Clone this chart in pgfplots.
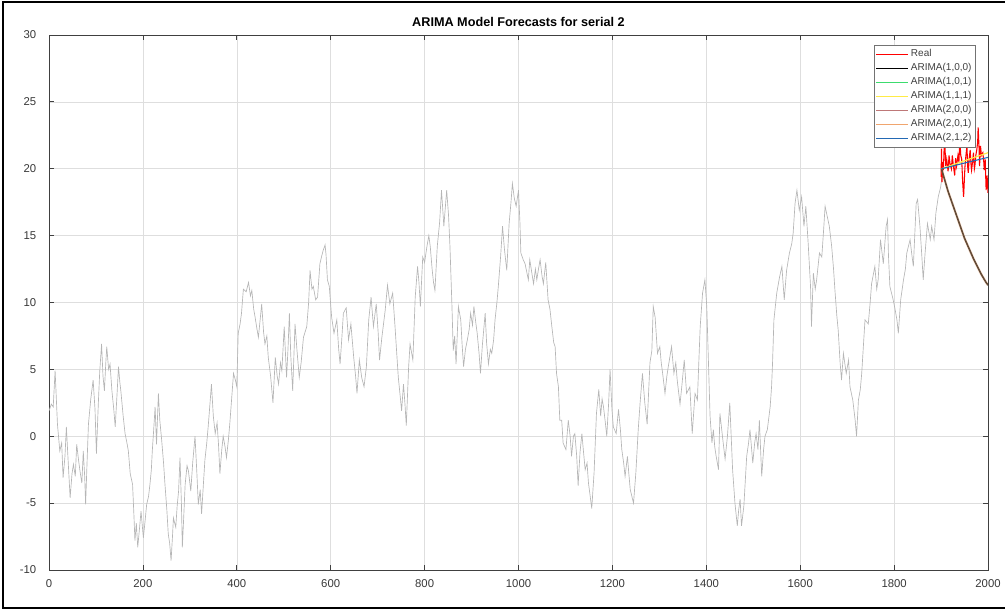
\documentclass[border=0pt]{standalone}
\usepackage{pgfplots}
\pgfplotsset{compat=1.18}
\usepackage{fontspec}
\setmainfont{Liberation Sans}

\definecolor{realred}{rgb}{1,0,0}
\definecolor{arGreen}{RGB}{60,220,110}
\definecolor{arYellow}{RGB}{255,235,70}
\definecolor{arRose}{RGB}{190,120,120}
\definecolor{arPeach}{RGB}{240,165,110}
\definecolor{arBlue}{RGB}{35,105,180}
\definecolor{seriesgray}{RGB}{182,182,182}

% observed series (index, value)
\pgfplotstableread{
x y
0 1.9
5 2.4
9 2.2
13 4.9
18 0.9
23 -1.1
27 -0.5
30 -3.1
34 -1.5
37 0.7
41 -2.0
45 -4.6
49 -2.8
52 -2.1
56 -3.0
59 -0.6
63 -1.8
66 -2.6
70 -3.5
73 -1.1
76 -3.0
78 -5.1
81 -2.0
84 0.9
89 2.8
94 4.2
98 2.0
101 -1.3
105 2.4
108 4.8
112 6.9
115 4.5
118 3.4
121 5.5
123 6.7
127 5.0
130 5.4
134 3.4
138 2.0
141 0.7
145 3.2
148 5.2
151 4.0
153 3.4
158 1.5
162 0.2
166 -0.5
169 -1.1
173 -2.8
178 -3.6
181 -6.0
183 -7.8
186 -6.5
189 -8.3
193 -6.8
196 -5.6
201 -7.6
205 -6.2
208 -5.1
212 -4.5
215 -3.6
218 -2.5
220 -1.1
223 0.5
226 2.2
229 -0.6
233 3.2
236 1.2
240 -0.3
244 -2.0
247 -3.6
251 -5.5
254 -7.3
257 -8.0
260 -9.3
263 -7.5
265 -6.1
270 -6.8
273 -5.2
276 -4.1
279 -1.6
282 -5.0
284 -8.3
287 -6.0
290 -3.6
294 -2.2
297 -2.6
302 -4.1
306 -2.0
311 0.0
315 -2.8
318 -5.1
322 -4.0
325 -5.8
329 -3.5
332 -1.8
336 -0.5
339 0.7
343 2.5
346 3.9
350 1.5
354 0.2
358 1.0
361 -0.6
364 -2.8
368 -1.0
371 0.0
375 -0.8
378 -1.6
382 -0.3
385 0.9
389 2.8
393 4.7
397 4.2
400 3.7
403 7.7
407 8.4
410 9.2
414 11.0
420 10.8
425 11.5
429 10.5
432 10.9
436 9.5
439 8.9
443 8.0
446 7.4
450 8.8
453 9.9
457 7.8
460 6.9
464 7.5
467 5.9
472 4.5
477 2.5
482 5.9
486 4.5
489 3.9
493 5.5
496 4.9
501 8.2
506 4.4
509 6.5
512 9.2
515 6.0
519 3.4
524 8.4
528 6.5
533 4.4
537 5.5
542 7.4
549 8.2
553 10.0
556 12.4
560 11.0
563 11.2
568 10.2
572 10.4
577 12.9
581 13.5
584 13.9
588 14.3
590 13.6
593 11.7
597 11.2
602 8.9
607 7.7
613 8.7
617 6.5
620 5.4
624 7.5
627 9.2
633 9.6
638 7.2
643 8.4
649 5.9
653 4.5
656 3.2
661 5.7
666 4.4
671 3.7
676 5.2
681 8.7
686 10.4
691 8.2
697 9.9
701 7.8
704 5.7
709 7.4
716 9.4
721 11.3
726 9.9
732 10.7
737 8.2
741 6.0
744 4.4
748 3.0
751 1.9
755 3.9
758 2.5
761 0.8
766 5.2
769 6.9
775 5.7
780 10.4
785 12.7
788 11.5
791 9.7
796 13.4
800 13.0
805 14.2
809 15.0
812 14.2
816 12.5
819 11.5
822 10.9
827 14.2
832 16.0
836 18.4
841 15.7
847 18.4
851 16.5
854 14.2
858 10.0
861 6.4
864 7.5
867 5.4
872 9.7
877 8.7
880 6.8
883 5.2
887 6.5
891 7.2
895 8.0
898 9.2
902 8.3
905 9.7
909 8.5
912 7.7
916 6.2
919 4.7
923 6.8
926 8.0
929 9.2
932 7.0
936 5.4
940 6.5
943 6.2
947 7.2
950 8.7
954 10.0
957 11.2
962 13.5
966 15.7
970 14.0
975 12.4
980 15.9
984 17.5
987 18.9
991 17.8
995 17.2
1000 18.4
1003 16.0
1005 13.7
1010 13.2
1014 12.9
1018 12.2
1021 11.7
1024 13.2
1028 12.3
1032 11.4
1036 12.5
1039 11.7
1043 12.6
1046 13.2
1050 12.0
1053 11.4
1058 13.0
1063 10.2
1067 9.5
1071 8.2
1075 7.0
1078 6.7
1081 4.7
1085 3.7
1088 1.2
1092 1.2
1095 -0.5
1101 -1.0
1106 1.2
1110 0.0
1113 -1.5
1117 0.0
1120 0.2
1124 -1.5
1127 -3.7
1131 -1.2
1135 0.2
1138 -1.0
1142 -2.5
1146 -2.0
1149 -3.5
1152 -4.3
1156 -5.4
1161 -2.7
1166 1.7
1171 3.5
1175 1.5
1178 2.8
1181 2.2
1185 1.0
1188 0.0
1192 2.5
1195 5.0
1199 2.0
1202 0.7
1208 0.2
1213 2.0
1217 0.5
1220 -1.0
1224 -2.0
1227 -3.0
1232 -1.5
1235 -2.8
1238 -4.0
1245 -5.0
1250 -2.7
1255 0.5
1259 2.5
1264 4.7
1269 2.5
1274 0.9
1280 5.5
1284 6.4
1287 9.7
1291 8.9
1296 6.2
1301 6.7
1304 5.5
1307 4.7
1312 3.2
1316 4.5
1319 5.2
1326 6.7
1331 4.7
1335 5.5
1338 4.2
1344 2.4
1348 3.8
1353 5.7
1358 3.2
1365 3.7
1370 0.2
1376 3.2
1381 2.7
1384 5.5
1387 8.2
1392 10.7
1397 11.7
1401 9.7
1404 6.2
1408 1.5
1412 -0.5
1415 0.5
1418 -0.8
1421 -1.5
1426 -2.5
1429 1.7
1435 -0.2
1440 -1.7
1445 0.0
1450 2.5
1453 0.0
1456 -2.5
1461 -5.0
1466 -6.7
1469 -5.5
1472 -4.7
1475 -6.7
1480 -5.2
1486 -1.5
1490 -0.5
1493 0.5
1499 -2.0
1503 -0.5
1506 0.2
1510 -1.0
1513 1.2
1518 -3.0
1522 -1.0
1525 0.0
1530 0.5
1536 2.2
1539 3.7
1541 5.4
1544 8.7
1550 10.7
1556 11.9
1561 12.7
1566 10.2
1571 12.4
1577 13.7
1582 14.4
1585 15.2
1589 17.4
1593 18.4
1598 16.9
1603 17.9
1608 15.7
1612 17.2
1617 14.4
1622 11.2
1624 8.2
1628 12.2
1632 11.0
1635 11.7
1641 13.7
1646 13.4
1650 15.5
1653 17.2
1656 16.7
1662 15.7
1667 14.2
1671 12.5
1674 10.9
1678 9.0
1681 7.9
1685 5.5
1688 4.2
1692 6.2
1698 4.7
1703 5.7
1706 3.7
1712 2.7
1717 1.2
1720 0.0
1724 2.7
1728 3.5
1731 4.7
1735 7.0
1738 8.7
1745 8.4
1749 10.0
1752 11.4
1759 12.7
1763 11.0
1766 11.7
1771 14.7
1777 12.9
1783 15.7
1786 16.2
1788 13.5
1791 11.2
1798 10.2
1802 9.5
1806 8.7
1809 7.7
1814 10.2
1820 11.7
1824 12.5
1827 13.7
1834 14.7
1838 13.5
1841 12.7
1847 17.4
1850 17.7
1855 15.7
1859 13.5
1862 11.7
1866 13.7
1871 15.9
1877 14.7
1880 15.7
1885 14.7
1889 16.7
1894 17.9
1899 18.6
1902 19.4
}\observed

% held-out real values
\pgfplotstableread{
x y
1900 19.4
1901 21.5
1902 19.0
1904 20.5
1905 19.9
1907 22.0
1908 21.9
1910 20.2
1912 20.7
1915 19.8
1917 21.0
1919 20.4
1922 20.0
1924 21.0
1926 20.3
1929 19.5
1931 20.8
1933 20.2
1936 21.0
1938 20.5
1940 22.1
1942 21.0
1944 20.7
1946 19.0
1948 17.9
1950 19.5
1951 20.2
1953 21.0
1955 21.7
1957 20.0
1958 19.7
1960 20.8
1962 21.4
1964 20.2
1965 19.9
1967 20.5
1969 21.2
1971 20.0
1972 20.2
1974 21.0
1976 21.4
1978 22.0
1979 23.1
1981 21.5
1982 20.2
1984 21.7
1986 21.0
1989 21.2
1991 20.5
1992 19.9
1994 20.7
1996 18.4
1998 19.5
2000 18.2
}\realdata

% stationary-model forecasts (mean reverting)
\pgfplotstableread{
x y
1901 20.0
1905 19.5
1910 18.9
1915 18.3
1920 17.8
1925 17.3
1930 16.8
1935 16.3
1940 15.8
1945 15.3
1950 14.8
1955 14.4
1960 14.0
1965 13.6
1970 13.2
1975 12.85
1980 12.5
1985 12.15
1990 11.85
1995 11.55
2000 11.3
}\fcstat

% integrated-model forecasts (drift)
\pgfplotstableread{
x y
1901 20.0
1950 20.6
2000 21.2
}\fcarimaA

\pgfplotstableread{
x y
1901 20.0
1950 20.43
2000 20.85
}\fcarimaB

\begin{document}
\begin{tikzpicture}
\useasboundingbox (-36.75pt,-31.5pt) rectangle (717pt,427.5pt);
\begin{axis}[
  scale only axis,
  width=704.25pt, height=401.25pt,
  xmin=0, xmax=2000, ymin=-10, ymax=30,
  xtick={0,200,...,2000},
  ytick={-10,-5,...,30},
  grid=major,
  major grid style={draw=black!13, line width=0.45pt},
  tick align=inside,
  major tick length=4pt,
  axis line style={draw=black!75, line width=0.6pt},
  tick style={draw=black!75, line width=0.6pt},
  ticklabel style={font=\fontsize{8.5}{10}\selectfont, text=black!78},
  xticklabel style={yshift=-3.5pt},
  yticklabel style={xshift=-6pt},
  /pgf/number format/assume math mode=true,
  /pgf/number format/1000 sep={},
  title={\textbf{ARIMA Model Forecasts for serial 2}},
  title style={font=\fontsize{9.5}{11}\selectfont, at={(0.5,1)}, anchor=south, yshift=-3pt},
  legend style={at={(1,1)}, anchor=north east, xshift=-9pt, yshift=-7.5pt,
    font=\fontsize{7.5}{8.5}\selectfont, text=black!75,
    draw=black!55, line width=0.5pt, fill=white,
    inner sep=1.5pt, row sep=0.4pt,
    nodes={inner sep=1.6pt},
    cells={anchor=west}},
  legend image code/.code={\draw[#1] (0pt,0pt) -- (24pt,0pt);},
  legend cell align=left,
]
% legend samples
\addlegendimage{realred, line width=0.6pt}
\addlegendentry{Real}
\addlegendimage{black, line width=0.7pt}
\addlegendentry{ARIMA(1,0,0)}
\addlegendimage{arGreen, line width=0.7pt}
\addlegendentry{ARIMA(1,0,1)}
\addlegendimage{arYellow, line width=0.7pt}
\addlegendentry{ARIMA(1,1,1)}
\addlegendimage{arRose, line width=0.7pt}
\addlegendentry{ARIMA(2,0,0)}
\addlegendimage{arPeach, line width=0.7pt}
\addlegendentry{ARIMA(2,0,1)}
\addlegendimage{arBlue, line width=0.7pt}
\addlegendentry{ARIMA(2,1,2)}

% observed history
\addplot[seriesgray, line width=0.5pt, forget plot] table[x=x,y=y] {\observed};
% real values over the forecast horizon
\addplot[realred, line width=0.8pt, forget plot] table[x=x,y=y] {\realdata};
% model forecasts
\addplot[black, line width=1.1pt, forget plot] table[x=x,y=y] {\fcstat};
\addplot[arGreen, line width=0.6pt, opacity=0.1, forget plot] table[x=x,y=y] {\fcstat};
\addplot[arYellow, line width=0.9pt, forget plot] table[x=x,y=y] {\fcarimaA};
\addplot[arRose, line width=0.9pt, opacity=0.2, forget plot] table[x=x,y=y] {\fcstat};
\addplot[arPeach, line width=2pt, opacity=0.3, forget plot] table[x=x,y=y] {\fcstat};
\addplot[arBlue, line width=0.8pt, forget plot] table[x=x,y=y] {\fcarimaB};
\end{axis}
% outer figure frame
\draw[line width=1.5pt, black] (718pt,426pt) -- (-34.5pt,426pt) -- (-34.5pt,-28.5pt) -- (718pt,-28.5pt);
\end{tikzpicture}
\end{document}
